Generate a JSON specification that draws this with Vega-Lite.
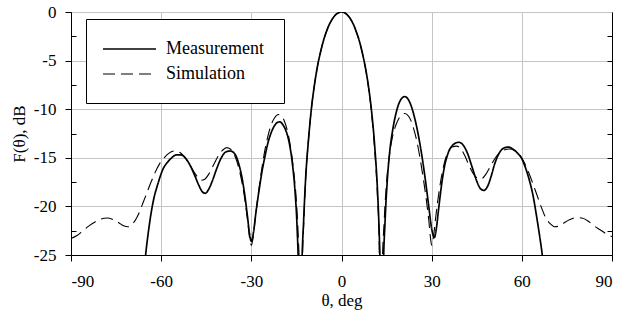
{
  "$schema": "https://vega.github.io/schema/vega-lite/v6.json",
  "width": 541,
  "height": 243,
  "autosize": {"type": "none"},
  "padding": {"left": 71, "top": 12, "right": 10, "bottom": 56},
  "datasets": {
    "pattern": [
      {"series": "Measurement", "theta": -65.8, "F": -27},
      {"series": "Measurement", "theta": -65, "F": -24.5},
      {"series": "Measurement", "theta": -64.2, "F": -22.5},
      {"series": "Measurement", "theta": -63.3, "F": -20.6},
      {"series": "Measurement", "theta": -62.3, "F": -19},
      {"series": "Measurement", "theta": -61.3, "F": -17.9},
      {"series": "Measurement", "theta": -60.3, "F": -16.9},
      {"series": "Measurement", "theta": -59.3, "F": -16.1},
      {"series": "Measurement", "theta": -58, "F": -15.5},
      {"series": "Measurement", "theta": -56.5, "F": -15},
      {"series": "Measurement", "theta": -55, "F": -14.7},
      {"series": "Measurement", "theta": -53.5, "F": -14.7},
      {"series": "Measurement", "theta": -52, "F": -15},
      {"series": "Measurement", "theta": -50.5, "F": -15.7},
      {"series": "Measurement", "theta": -49, "F": -16.7},
      {"series": "Measurement", "theta": -47.5, "F": -17.8},
      {"series": "Measurement", "theta": -46.3, "F": -18.5},
      {"series": "Measurement", "theta": -45.3, "F": -18.65},
      {"series": "Measurement", "theta": -44.3, "F": -18.3},
      {"series": "Measurement", "theta": -43, "F": -17.4},
      {"series": "Measurement", "theta": -41.5, "F": -16.1},
      {"series": "Measurement", "theta": -40, "F": -15},
      {"series": "Measurement", "theta": -38.5, "F": -14.4},
      {"series": "Measurement", "theta": -37, "F": -14.3},
      {"series": "Measurement", "theta": -35.5, "F": -14.6},
      {"series": "Measurement", "theta": -34.3, "F": -15.5},
      {"series": "Measurement", "theta": -33.2, "F": -16.9},
      {"series": "Measurement", "theta": -32.2, "F": -18.8},
      {"series": "Measurement", "theta": -31.3, "F": -21},
      {"series": "Measurement", "theta": -30.6, "F": -22.8},
      {"series": "Measurement", "theta": -30, "F": -23.6},
      {"series": "Measurement", "theta": -29.3, "F": -22.7},
      {"series": "Measurement", "theta": -28.5, "F": -20.7},
      {"series": "Measurement", "theta": -27.5, "F": -18.5},
      {"series": "Measurement", "theta": -26.5, "F": -16.5},
      {"series": "Measurement", "theta": -25.5, "F": -14.9},
      {"series": "Measurement", "theta": -24.5, "F": -13.5},
      {"series": "Measurement", "theta": -23.5, "F": -12.5},
      {"series": "Measurement", "theta": -22.5, "F": -11.8},
      {"series": "Measurement", "theta": -21.5, "F": -11.4},
      {"series": "Measurement", "theta": -20.5, "F": -11.3},
      {"series": "Measurement", "theta": -19.5, "F": -11.6},
      {"series": "Measurement", "theta": -18.5, "F": -12.2},
      {"series": "Measurement", "theta": -17.3, "F": -13.6},
      {"series": "Measurement", "theta": -16.3, "F": -15.7},
      {"series": "Measurement", "theta": -15.5, "F": -18.3},
      {"series": "Measurement", "theta": -14.8, "F": -22},
      {"series": "Measurement", "theta": -14.3, "F": -27},
      {"series": "Measurement", "theta": -13.8, "F": -40},
      {"series": "Measurement", "theta": -13.2, "F": -26.5},
      {"series": "Measurement", "theta": -12.6, "F": -21.5},
      {"series": "Measurement", "theta": -12, "F": -17.5},
      {"series": "Measurement", "theta": -11, "F": -13.2},
      {"series": "Measurement", "theta": -10, "F": -9.9},
      {"series": "Measurement", "theta": -9, "F": -7.5},
      {"series": "Measurement", "theta": -8, "F": -5.6},
      {"series": "Measurement", "theta": -7, "F": -4.15},
      {"series": "Measurement", "theta": -6, "F": -2.95},
      {"series": "Measurement", "theta": -5, "F": -2},
      {"series": "Measurement", "theta": -4, "F": -1.25},
      {"series": "Measurement", "theta": -3, "F": -0.7},
      {"series": "Measurement", "theta": -2, "F": -0.3},
      {"series": "Measurement", "theta": -1, "F": -0.08},
      {"series": "Measurement", "theta": 0, "F": 0},
      {"series": "Measurement", "theta": 1, "F": -0.08},
      {"series": "Measurement", "theta": 2, "F": -0.32},
      {"series": "Measurement", "theta": 3, "F": -0.72},
      {"series": "Measurement", "theta": 4, "F": -1.3},
      {"series": "Measurement", "theta": 5, "F": -2.1},
      {"series": "Measurement", "theta": 6, "F": -3.05},
      {"series": "Measurement", "theta": 7, "F": -4.3},
      {"series": "Measurement", "theta": 8, "F": -5.8},
      {"series": "Measurement", "theta": 9, "F": -7.7},
      {"series": "Measurement", "theta": 10, "F": -10.2},
      {"series": "Measurement", "theta": 11, "F": -13.6},
      {"series": "Measurement", "theta": 12, "F": -18.5},
      {"series": "Measurement", "theta": 12.5, "F": -22.3},
      {"series": "Measurement", "theta": 13, "F": -28.5},
      {"series": "Measurement", "theta": 13.4, "F": -40},
      {"series": "Measurement", "theta": 13.9, "F": -27},
      {"series": "Measurement", "theta": 14.5, "F": -21.5},
      {"series": "Measurement", "theta": 15.2, "F": -17.5},
      {"series": "Measurement", "theta": 16, "F": -14.5},
      {"series": "Measurement", "theta": 17, "F": -12.2},
      {"series": "Measurement", "theta": 18, "F": -10.6},
      {"series": "Measurement", "theta": 19, "F": -9.5},
      {"series": "Measurement", "theta": 20, "F": -8.9},
      {"series": "Measurement", "theta": 21, "F": -8.7},
      {"series": "Measurement", "theta": 22, "F": -8.9},
      {"series": "Measurement", "theta": 23, "F": -9.5},
      {"series": "Measurement", "theta": 24, "F": -10.5},
      {"series": "Measurement", "theta": 25, "F": -11.8},
      {"series": "Measurement", "theta": 26, "F": -13.4},
      {"series": "Measurement", "theta": 27, "F": -15.3},
      {"series": "Measurement", "theta": 28, "F": -17.5},
      {"series": "Measurement", "theta": 29, "F": -19.9},
      {"series": "Measurement", "theta": 30, "F": -22.3},
      {"series": "Measurement", "theta": 30.9, "F": -23.2},
      {"series": "Measurement", "theta": 31.5, "F": -22.4},
      {"series": "Measurement", "theta": 32.3, "F": -20.3},
      {"series": "Measurement", "theta": 33.2, "F": -18},
      {"series": "Measurement", "theta": 34.2, "F": -16},
      {"series": "Measurement", "theta": 35.5, "F": -14.5},
      {"series": "Measurement", "theta": 37, "F": -13.7},
      {"series": "Measurement", "theta": 39, "F": -13.4},
      {"series": "Measurement", "theta": 40.5, "F": -13.7},
      {"series": "Measurement", "theta": 42, "F": -14.6},
      {"series": "Measurement", "theta": 43.5, "F": -16},
      {"series": "Measurement", "theta": 45, "F": -17.4},
      {"series": "Measurement", "theta": 46.3, "F": -18.2},
      {"series": "Measurement", "theta": 47.4, "F": -18.35},
      {"series": "Measurement", "theta": 48.5, "F": -18},
      {"series": "Measurement", "theta": 49.8, "F": -16.9},
      {"series": "Measurement", "theta": 51, "F": -15.6},
      {"series": "Measurement", "theta": 52.5, "F": -14.5},
      {"series": "Measurement", "theta": 54, "F": -14},
      {"series": "Measurement", "theta": 55.5, "F": -13.9},
      {"series": "Measurement", "theta": 57, "F": -14.1},
      {"series": "Measurement", "theta": 58.5, "F": -14.5},
      {"series": "Measurement", "theta": 60, "F": -15.1},
      {"series": "Measurement", "theta": 61.3, "F": -16.1},
      {"series": "Measurement", "theta": 62.5, "F": -17.3},
      {"series": "Measurement", "theta": 63.8, "F": -19},
      {"series": "Measurement", "theta": 65, "F": -21.2},
      {"series": "Measurement", "theta": 66, "F": -23.2},
      {"series": "Measurement", "theta": 66.8, "F": -25},
      {"series": "Measurement", "theta": 67.5, "F": -27},
      {"series": "Simulation", "theta": -90, "F": -23.3},
      {"series": "Simulation", "theta": -88, "F": -23},
      {"series": "Simulation", "theta": -86, "F": -22.5},
      {"series": "Simulation", "theta": -84, "F": -22},
      {"series": "Simulation", "theta": -82, "F": -21.6},
      {"series": "Simulation", "theta": -80, "F": -21.3},
      {"series": "Simulation", "theta": -78, "F": -21.2},
      {"series": "Simulation", "theta": -76, "F": -21.35},
      {"series": "Simulation", "theta": -74, "F": -21.7},
      {"series": "Simulation", "theta": -72.5, "F": -22},
      {"series": "Simulation", "theta": -71, "F": -22.1},
      {"series": "Simulation", "theta": -69.5, "F": -21.8},
      {"series": "Simulation", "theta": -68, "F": -21.1},
      {"series": "Simulation", "theta": -67, "F": -20.4},
      {"series": "Simulation", "theta": -66, "F": -19.6},
      {"series": "Simulation", "theta": -65, "F": -18.8},
      {"series": "Simulation", "theta": -63.5, "F": -17.6},
      {"series": "Simulation", "theta": -62, "F": -16.5},
      {"series": "Simulation", "theta": -60.5, "F": -15.6},
      {"series": "Simulation", "theta": -59, "F": -15},
      {"series": "Simulation", "theta": -57.5, "F": -14.55},
      {"series": "Simulation", "theta": -55.5, "F": -14.3},
      {"series": "Simulation", "theta": -53.5, "F": -14.5},
      {"series": "Simulation", "theta": -52, "F": -15},
      {"series": "Simulation", "theta": -50.5, "F": -15.7},
      {"series": "Simulation", "theta": -49, "F": -16.5},
      {"series": "Simulation", "theta": -47.5, "F": -17.1},
      {"series": "Simulation", "theta": -46.5, "F": -17.3},
      {"series": "Simulation", "theta": -45.5, "F": -17.2},
      {"series": "Simulation", "theta": -44, "F": -16.6},
      {"series": "Simulation", "theta": -42.5, "F": -15.7},
      {"series": "Simulation", "theta": -41, "F": -14.8},
      {"series": "Simulation", "theta": -39.5, "F": -14.2},
      {"series": "Simulation", "theta": -38.2, "F": -13.95},
      {"series": "Simulation", "theta": -37, "F": -14.1},
      {"series": "Simulation", "theta": -35.5, "F": -14.8},
      {"series": "Simulation", "theta": -34.3, "F": -15.9},
      {"series": "Simulation", "theta": -33.2, "F": -17.4},
      {"series": "Simulation", "theta": -32.2, "F": -19.2},
      {"series": "Simulation", "theta": -31.3, "F": -21.3},
      {"series": "Simulation", "theta": -30.6, "F": -23.2},
      {"series": "Simulation", "theta": -30, "F": -24},
      {"series": "Simulation", "theta": -29.4, "F": -23.2},
      {"series": "Simulation", "theta": -28.6, "F": -21},
      {"series": "Simulation", "theta": -27.6, "F": -18.5},
      {"series": "Simulation", "theta": -26.6, "F": -16.3},
      {"series": "Simulation", "theta": -25.6, "F": -14.4},
      {"series": "Simulation", "theta": -24.5, "F": -12.8},
      {"series": "Simulation", "theta": -23.5, "F": -11.7},
      {"series": "Simulation", "theta": -22.3, "F": -10.9},
      {"series": "Simulation", "theta": -21, "F": -10.55},
      {"series": "Simulation", "theta": -19.8, "F": -10.75},
      {"series": "Simulation", "theta": -18.8, "F": -11.4},
      {"series": "Simulation", "theta": -17.8, "F": -12.5},
      {"series": "Simulation", "theta": -16.8, "F": -14.2},
      {"series": "Simulation", "theta": -15.8, "F": -16.7},
      {"series": "Simulation", "theta": -15, "F": -19.5},
      {"series": "Simulation", "theta": -14.4, "F": -23},
      {"series": "Simulation", "theta": -13.9, "F": -28},
      {"series": "Simulation", "theta": -13.6, "F": -40},
      {"series": "Simulation", "theta": -13, "F": -25.5},
      {"series": "Simulation", "theta": -12.5, "F": -21.3},
      {"series": "Simulation", "theta": -12, "F": -17.6},
      {"series": "Simulation", "theta": -11, "F": -13.2},
      {"series": "Simulation", "theta": -10, "F": -9.9},
      {"series": "Simulation", "theta": -9, "F": -7.5},
      {"series": "Simulation", "theta": -8, "F": -5.6},
      {"series": "Simulation", "theta": -7, "F": -4.15},
      {"series": "Simulation", "theta": -6, "F": -2.95},
      {"series": "Simulation", "theta": -5, "F": -2},
      {"series": "Simulation", "theta": -4, "F": -1.25},
      {"series": "Simulation", "theta": -3, "F": -0.7},
      {"series": "Simulation", "theta": -2, "F": -0.3},
      {"series": "Simulation", "theta": -1, "F": -0.08},
      {"series": "Simulation", "theta": 0, "F": 0},
      {"series": "Simulation", "theta": 1, "F": -0.08},
      {"series": "Simulation", "theta": 2, "F": -0.32},
      {"series": "Simulation", "theta": 3, "F": -0.72},
      {"series": "Simulation", "theta": 4, "F": -1.3},
      {"series": "Simulation", "theta": 5, "F": -2.1},
      {"series": "Simulation", "theta": 6, "F": -3.05},
      {"series": "Simulation", "theta": 7, "F": -4.3},
      {"series": "Simulation", "theta": 8, "F": -5.8},
      {"series": "Simulation", "theta": 9, "F": -7.8},
      {"series": "Simulation", "theta": 10, "F": -10.4},
      {"series": "Simulation", "theta": 11, "F": -14},
      {"series": "Simulation", "theta": 12, "F": -19.2},
      {"series": "Simulation", "theta": 12.5, "F": -23.2},
      {"series": "Simulation", "theta": 13, "F": -40},
      {"series": "Simulation", "theta": 13.5, "F": -27},
      {"series": "Simulation", "theta": 14.2, "F": -21.5},
      {"series": "Simulation", "theta": 15, "F": -17.5},
      {"series": "Simulation", "theta": 16, "F": -14.6},
      {"series": "Simulation", "theta": 17, "F": -12.8},
      {"series": "Simulation", "theta": 18, "F": -11.7},
      {"series": "Simulation", "theta": 19, "F": -11},
      {"series": "Simulation", "theta": 20, "F": -10.6},
      {"series": "Simulation", "theta": 21, "F": -10.45},
      {"series": "Simulation", "theta": 22, "F": -10.6},
      {"series": "Simulation", "theta": 23, "F": -11.1},
      {"series": "Simulation", "theta": 24, "F": -12},
      {"series": "Simulation", "theta": 25, "F": -13.2},
      {"series": "Simulation", "theta": 26, "F": -14.8},
      {"series": "Simulation", "theta": 27, "F": -16.7},
      {"series": "Simulation", "theta": 28, "F": -18.8},
      {"series": "Simulation", "theta": 29, "F": -21.3},
      {"series": "Simulation", "theta": 29.6, "F": -23.2},
      {"series": "Simulation", "theta": 30, "F": -24},
      {"series": "Simulation", "theta": 30.5, "F": -23.4},
      {"series": "Simulation", "theta": 31.2, "F": -21.5},
      {"series": "Simulation", "theta": 32, "F": -19.5},
      {"series": "Simulation", "theta": 33, "F": -17.4},
      {"series": "Simulation", "theta": 34, "F": -15.8},
      {"series": "Simulation", "theta": 35.3, "F": -14.5},
      {"series": "Simulation", "theta": 36.8, "F": -13.9},
      {"series": "Simulation", "theta": 38.3, "F": -13.8},
      {"series": "Simulation", "theta": 39.8, "F": -14.1},
      {"series": "Simulation", "theta": 41.2, "F": -14.9},
      {"series": "Simulation", "theta": 42.6, "F": -15.9},
      {"series": "Simulation", "theta": 44, "F": -16.7},
      {"series": "Simulation", "theta": 45.3, "F": -17.1},
      {"series": "Simulation", "theta": 46.6, "F": -17.15},
      {"series": "Simulation", "theta": 48, "F": -16.7},
      {"series": "Simulation", "theta": 49.5, "F": -15.9},
      {"series": "Simulation", "theta": 51, "F": -15.1},
      {"series": "Simulation", "theta": 52.5, "F": -14.5},
      {"series": "Simulation", "theta": 54, "F": -14.2},
      {"series": "Simulation", "theta": 56, "F": -14.1},
      {"series": "Simulation", "theta": 57.5, "F": -14.25},
      {"series": "Simulation", "theta": 59, "F": -14.6},
      {"series": "Simulation", "theta": 60.5, "F": -15.3},
      {"series": "Simulation", "theta": 62, "F": -16.3},
      {"series": "Simulation", "theta": 63.5, "F": -17.5},
      {"series": "Simulation", "theta": 65, "F": -18.8},
      {"series": "Simulation", "theta": 66.5, "F": -20.1},
      {"series": "Simulation", "theta": 68, "F": -21.2},
      {"series": "Simulation", "theta": 69.5, "F": -21.8},
      {"series": "Simulation", "theta": 71, "F": -22.1},
      {"series": "Simulation", "theta": 72.5, "F": -22},
      {"series": "Simulation", "theta": 74, "F": -21.7},
      {"series": "Simulation", "theta": 76, "F": -21.35},
      {"series": "Simulation", "theta": 78, "F": -21.15},
      {"series": "Simulation", "theta": 80, "F": -21.2},
      {"series": "Simulation", "theta": 82, "F": -21.5},
      {"series": "Simulation", "theta": 84, "F": -22},
      {"series": "Simulation", "theta": 86, "F": -22.4},
      {"series": "Simulation", "theta": 88, "F": -22.8},
      {"series": "Simulation", "theta": 90, "F": -23.1}
    ]
  },
  "data": {"name": "pattern"},
  "encoding": {
    "x": {"field": "theta", "type": "quantitative", "scale": {"domain": [-90, 90], "nice": false, "zero": false}},
    "y": {"field": "F", "type": "quantitative", "scale": {"domain": [-25, 0], "nice": false, "zero": false}}
  },
  "layer": [
    {
      "mark": {"type": "line", "clip": true, "interpolate": "monotone", "color": "black"},
      "encoding": {
        "x": {"field": "theta", "type": "quantitative",
          "axis": {"orient": "bottom", "values": [-90, -60, -30, 0, 30, 60, 90], "grid": true, "title": "θ, deg",
            "labelExpr": "'' + datum.value",
            "tickSize": 6, "labelPadding": 12, "titlePadding": 3}},
        "y": {"field": "F", "type": "quantitative",
          "axis": {"orient": "left", "values": [-25, -20, -15, -10, -5, 0], "grid": true, "title": "F(θ), dB",
            "labelExpr": "'' + datum.value",
            "tickSize": 6, "labelPadding": 9, "titlePadding": 5}},
        "strokeDash": {"field": "series", "type": "nominal",
          "scale": {"domain": ["Measurement", "Simulation"], "range": [[1, 0], [12, 6]]},
          "legend": {"title": null}},
        "strokeWidth": {"field": "series", "type": "nominal",
          "scale": {"domain": ["Measurement", "Simulation"], "range": [1.7, 1.1]},
          "legend": null},
        "detail": {"field": "series"}
      }
    },
    {
      "mark": {"type": "line", "opacity": 0},
      "encoding": {
        "x": {"field": "theta", "type": "quantitative", "axis": null},
        "y": {"field": "F", "type": "quantitative",
          "axis": {"orient": "left", "values": [-22.5, -17.5, -12.5, -7.5, -2.5], "grid": false, "labels": false,
            "domain": false, "title": null, "tickSize": -5}}
      }
    },
    {
      "mark": {"type": "line", "opacity": 0},
      "encoding": {
        "x": {"field": "theta", "type": "quantitative", "axis": null},
        "y": {"field": "F", "type": "quantitative",
          "axis": {"orient": "right", "values": [-22.5, -20, -17.5, -15, -12.5, -10, -7.5, -5, -2.5], "grid": false, "labels": false,
            "domain": true, "title": null, "tickSize": -5}}
      }
    }
  ],
  "resolve": {"axis": {"x": "independent", "y": "independent"}},
  "config": {
    "font": "Liberation Serif",
    "view": {"stroke": "black", "strokeWidth": 1},
    "axis": {
      "domainColor": "black", "domainWidth": 1, "tickColor": "black", "tickWidth": 1,
      "gridColor": "#c4c4c4", "gridWidth": 1,
      "labelFont": "Liberation Serif", "labelFontSize": 17, "labelColor": "black",
      "titleFont": "Liberation Serif", "titleFontSize": 17, "titleFontWeight": "normal", "titleColor": "black"
    },
    "legend": {
      "orient": "none", "legendX": 15, "legendY": 7,
      "strokeColor": "black", "fillColor": "white", "padding": 20,
      "symbolType": "M-2.944,0H2.944", "symbolSize": 324, "symbolOffset": 13.5,
      "symbolStrokeColor": "black", "symbolStrokeWidth": 1.4,
      "labelFont": "Liberation Serif", "labelFontSize": 18, "labelColor": "black", "labelOffset": 26.5,
      "rowPadding": 6, "labelLimit": 300
    }
  }
}
